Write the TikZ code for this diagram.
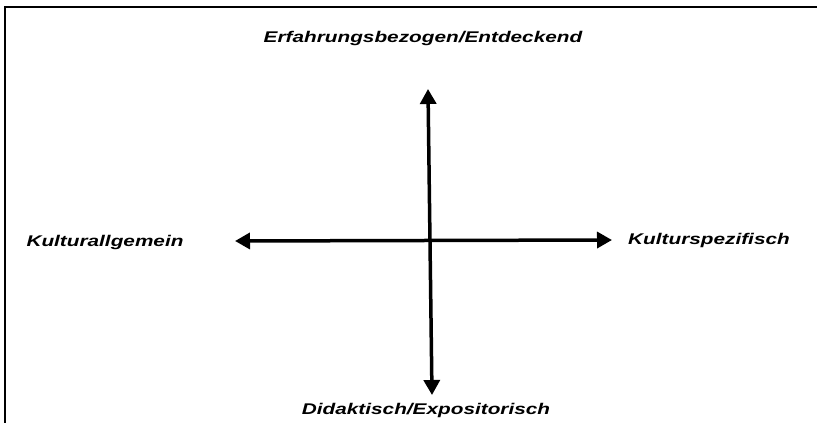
\documentclass[tikz,border=0pt]{standalone}
\usepackage{fontspec}
\newfontfamily\labfont[FakeStretch=1.34]{Liberation Sans}
\usetikzlibrary{arrows.meta}
\tikzset{
  axis/.style={line width=3.5pt, {Triangle[length=15pt,width=16pt]}-{Triangle[length=15pt,width=16pt]}},
  lab/.style={font=\labfont\bfseries\itshape\fontsize{15.5pt}{18pt}\selectfont, inner sep=0pt},
  frame/.style={line width=2.5pt}
}
\begin{document}
\begin{tikzpicture}[x=1pt,y=-1pt]
\useasboundingbox (0,0) rectangle (817,423);
\draw[frame] (5,423) -- (5,7) -- (817,7);
\coordinate (L) at (235,241);
\coordinate (R) at (612,240);
\coordinate (T) at (428,89);
\coordinate (B) at (432,395);
\draw[axis] (L) -- (R);
\draw[axis] (T) -- (B);
\node[lab] (top) at (423,38) {Erfahrungsbezogen/Entdeckend};
\node[lab] (left) at (105,242) {Kulturallgemein};
\node[lab] (right) at (709,240) {Kulturspezifisch};
\node[lab] (bottom) at (426,410) {Didaktisch/Expositorisch};
\end{tikzpicture}
\end{document}
